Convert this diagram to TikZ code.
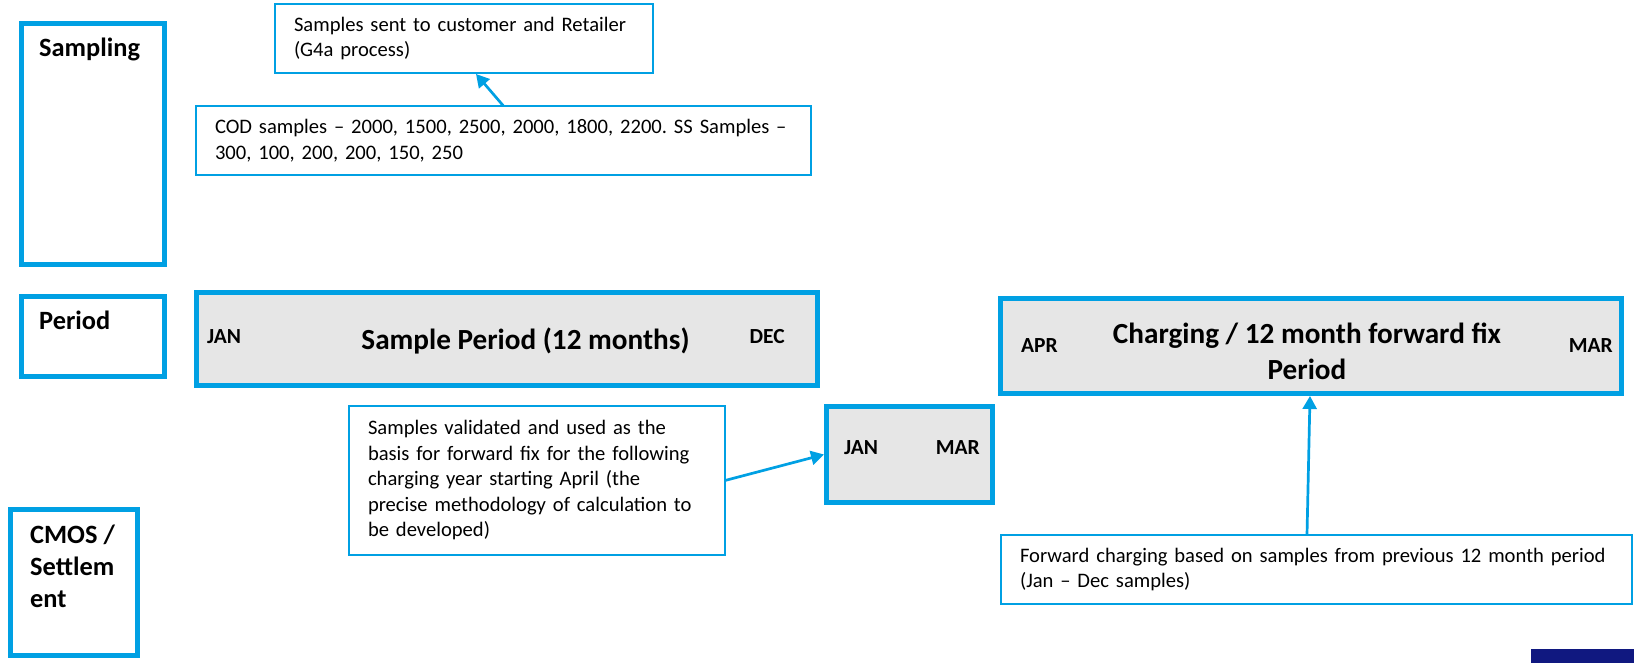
\documentclass[tikz,border=0pt]{standalone}
\usepackage{fontspec}
\setmainfont{Carlito}
\usepackage{xcolor}
\usepackage{tikz}
\usetikzlibrary{arrows.meta,positioning,calc}

\definecolor{lineblue}{RGB}{0,160,227}
\definecolor{bargray}{RGB}{230,230,230}
\definecolor{navy}{RGB}{16,24,128}
\frenchspacing

\begin{document}
\begin{tikzpicture}[x=1pt, y=-1pt,
    rowbox/.style={rectangle, draw=lineblue, line width=5pt, outer sep=0pt, inner sep=0pt},
    rowlabel/.style={inner sep=0pt, align=left, font=\fontsize{26.4}{32}\selectfont\bfseries},
    bar/.style={rectangle, draw=lineblue, fill=bargray, line width=5pt, outer sep=0pt, inner sep=0pt},
    bartitle/.style={inner sep=0pt, align=center, font=\fontsize{29.2}{36}\selectfont\bfseries},
    month/.style={inner sep=0pt, font=\fontsize{21.5}{26}\selectfont\bfseries},
    note/.style={rectangle, draw=lineblue, line width=2pt, outer sep=0pt, inner xsep=19pt, inner ysep=2pt, align=left, font=\fontsize{20.6}{25.5}\selectfont},
    arrow/.style={->, >={Triangle[length=13pt, width=14pt]}, line width=2.7pt, draw=lineblue}]

    \useasboundingbox (0,0) rectangle (1634,663);

    % Row labels
    \node[rowbox, minimum width=143pt, minimum height=241pt, anchor=north west] (sampl) at (21.5,23.5) {};
    \node[rowbox, minimum width=143pt, minimum height=80pt, below=32pt of sampl.south west, anchor=north west] (period) {};
    \node[rowbox, minimum width=127pt, minimum height=146pt, anchor=north west] (cmos) at (10.5,509.5) {};
    \node[rowlabel, anchor=base west] (sampltxt) at ([xshift=17.5pt, yshift=-33.5pt]sampl.north west) {Sampling};
    \node[rowlabel, anchor=base west] (periodtxt) at ([xshift=17.5pt, yshift=-32.5pt]period.north west) {Period};
    \node[rowlabel, anchor=base west] (cmostxt) at ([xshift=19.5pt, yshift=-97.5pt]cmos.north west) {CMOS /\\Settlem\\ent};

    % Sampling notes
    \node[note, text width=340pt, minimum height=69pt, anchor=north west] (sent) at (275,4)
        {Samples sent to customer and Retailer\\(G4a process)};
    \node[note, text width=577pt, minimum height=69pt, anchor=north west] (cod) at (196,106)
        {COD samples -- 2000, 1500, 2500, 2000, 1800, 2200. SS Samples --\\300, 100, 200, 200, 150, 250};

    % Sample period
    \node[bar, minimum width=621pt, minimum height=93pt, anchor=north west] (spbar) at (196.5,292.5) {};
    \node[bartitle, anchor=base] (sptitle) at ([xshift=18.5pt, yshift=-10pt]spbar.center) {Sample Period (12 months)};
    \node[month, anchor=base west] (spjan) at ([xshift=10.5pt, yshift=-4pt]spbar.west) {JAN};
    \node[month, anchor=base east] (spdec) at ([xshift=-32.5pt, yshift=-4pt]spbar.east) {DEC};

    % Validation
    \node[note, text width=338pt, minimum height=149pt, anchor=north west] (valid) at (349,406)
        {Samples validated and used as the\\basis for forward fix for the following\\charging year starting April (the\\precise methodology of calculation to\\be developed)};

    % Jan - Mar
    \node[bar, minimum width=166pt, minimum height=96pt, anchor=north west] (jmbox) at (826.5,406.5) {};
    \node[month, anchor=base west] (jmjan) at ([xshift=17.5pt]jmbox.west) {JAN};
    \node[month, anchor=base east] (jmmar) at ([xshift=-12.5pt]jmbox.east) {MAR};

    % Charging period
    \node[bar, minimum width=621pt, minimum height=95pt, anchor=north west] (chbar) at (1000.5,298.5) {};
    \node[bartitle, anchor=base] (chtitle) at ([xshift=-4pt, yshift=-33pt]chbar.center) {Charging / 12 month forward fix\\Period};
    \node[month, anchor=base west] (chapr) at ([xshift=20.5pt, yshift=-6pt]chbar.west) {APR};
    \node[month, anchor=base east] (chmar) at ([xshift=-8.5pt, yshift=-6pt]chbar.east) {MAR};

    % Forward charging
    \node[note, text width=593pt, minimum height=69pt, anchor=north west] (fwd) at (1001,535)
        {Forward charging based on samples from previous 12 month period\\(Jan -- Dec samples)};

    % Arrows
    \draw[arrow] (cod.north) -- ([xshift=12pt, yshift=-1pt]sent.south);
    \draw[arrow] (valid.east) -- ([xshift=-2.5pt]jmbox.west);
    \draw[arrow] ([xshift=-9.5pt]fwd.north) -- ([xshift=-1pt, yshift=-2.5pt]chbar.south);

    % Logo corner
    \fill[navy] (1531,649) rectangle (1634,663);

\end{tikzpicture}
\end{document}
